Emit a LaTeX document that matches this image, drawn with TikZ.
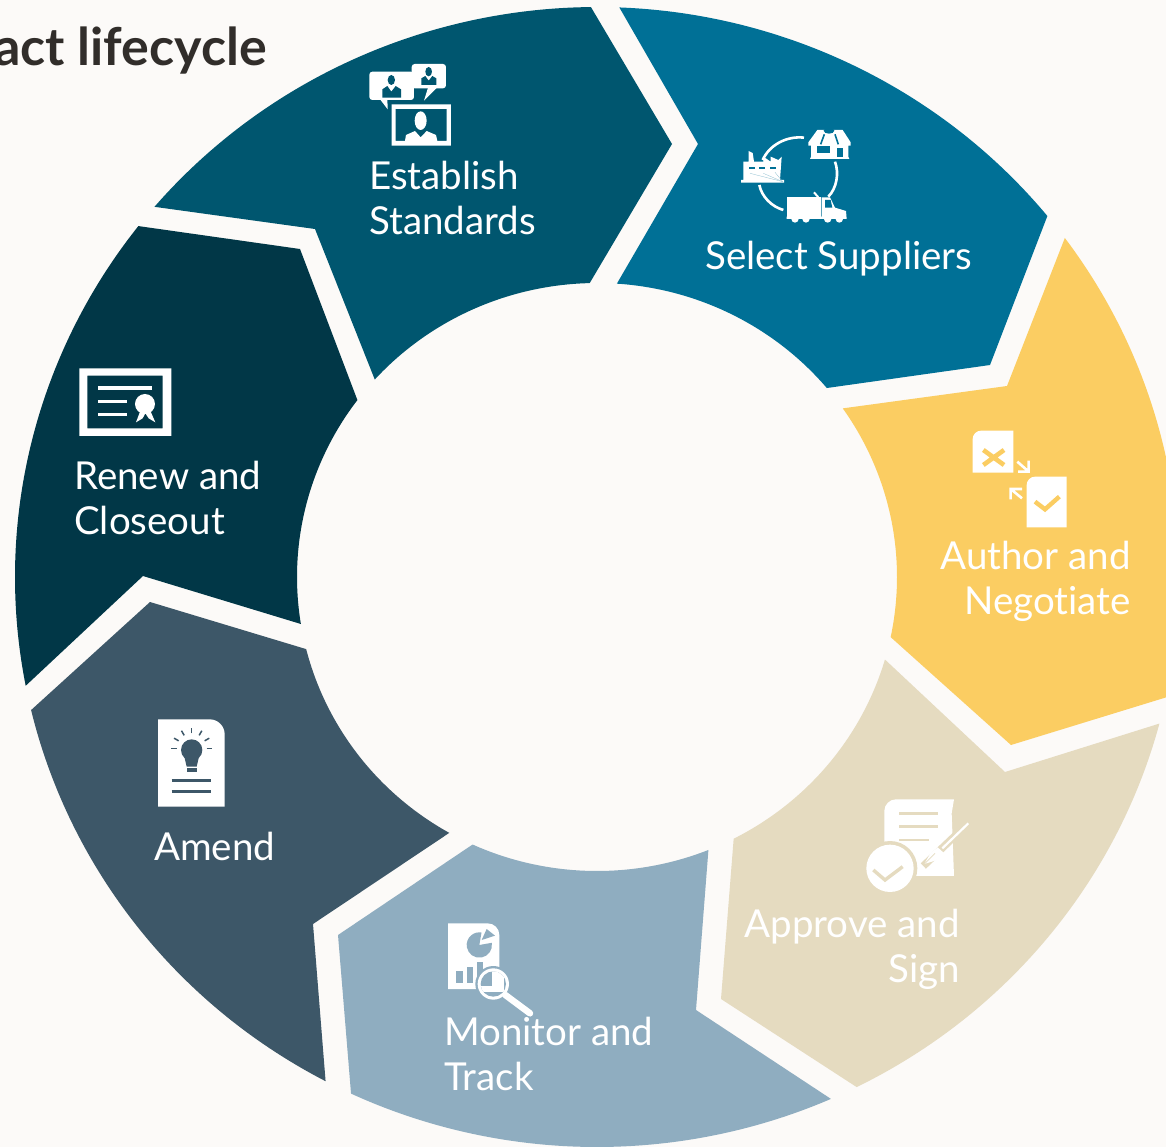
\documentclass[tikz,border=0pt]{standalone}
\usepackage{fontspec}
\setmainfont{Lato}[Ligatures=NoCommon]
\usetikzlibrary{calc}

\definecolor{pagebg}{HTML}{FCFAF8}
\definecolor{estcol}{HTML}{00566F}
\definecolor{selcol}{HTML}{007096}
\definecolor{autcol}{HTML}{FBCD62}
\definecolor{appcol}{HTML}{E5DBC0}
\definecolor{moncol}{HTML}{8FADC0}
\definecolor{amecol}{HTML}{3D5768}
\definecolor{rencol}{HTML}{013747}
\definecolor{titlecol}{HTML}{312D2A}

\tikzset{
  outerarc/.style={x radius=582,y radius=570},
  innerarc/.style={x radius=300,y radius=294},
  seglabel/.style={text=white,inner sep=0pt,anchor=base west,font=\fontsize{38.5}{45}\selectfont},
  iconat/.style 2 args={shift={(#1,#2)},x=0.3333pt,y=-0.3333pt},
  ico/.style={fill=white}
}

\begin{document}
\begin{tikzpicture}[x=1pt,y=-1pt]
	\clip (0,0) rectangle (1166,1147);
	\fill[pagebg] (0,0) rectangle (1166,1147);
	\coordinate (c) at (597,577);

	\fill[estcol] ($(c)+(-139.5:582 and 570)$) arc[outerarc,start angle=-139.5,end angle=-90.6] -- (672,144) -- ($(c)+(-91.4:300 and 294)$) arc[innerarc,start angle=-91.4,end angle=-137.8] -- (315,229) -- cycle;
	\fill[selcol] ($(c)+(-87.8:582 and 570)$) arc[outerarc,start angle=-87.8,end angle=-39.3] -- (990,365) -- ($(c)+(-40:300 and 294)$) arc[innerarc,start angle=-40,end angle=-86.2] -- (698,144) -- cycle;
	\fill[autcol] ($(c)+(-36.5:582 and 570)$) arc[outerarc,start angle=-36.5,end angle=12.2] -- (1011,745) -- ($(c)+(11.8:300 and 294)$) arc[innerarc,start angle=11.8,end angle=-35] -- (1007,386) -- cycle;
	\fill[appcol] ($(c)+(14.9:582 and 570)$) arc[outerarc,start angle=14.9,end angle=63.5] -- (721,999) -- ($(c)+(62.9:300 and 294)$) arc[innerarc,start angle=62.9,end angle=16.3] -- (1005,772) -- cycle;
	\fill[moncol] ($(c)+(66.3:582 and 570)$) arc[outerarc,start angle=66.3,end angle=115] -- (338,935) -- ($(c)+(114.5:300 and 294)$) arc[innerarc,start angle=114.5,end angle=68.2] -- (696,1010) -- cycle;
	\fill[amecol] ($(c)+(117.8:582 and 570)$) arc[outerarc,start angle=117.8,end angle=166.5] -- (150,602) -- ($(c)+(165.8:300 and 294)$) arc[innerarc,start angle=165.8,end angle=119.5] -- (313,924) -- cycle;
	\fill[rencol] ($(c)+(169:582 and 570)$) arc[outerarc,start angle=169,end angle=218] -- (300,249) -- ($(c)+(217:300 and 294)$) arc[innerarc,start angle=217,end angle=170.8] -- (143,576) -- cycle;

	\node[text=titlecol,inner sep=0pt,anchor=base east,font=\fontsize{52}{52}\selectfont\bfseries] (title) at (267,66) {act lifecycle};
	\node[seglabel,align=left] (establish) at (369,235) {Establish\\Standards};
	\node[seglabel] (select) at (705,270) {Select Suppliers};
	\node[seglabel,anchor=base east,align=right] (author) at (1131,614) {Author and\\Negotiate};
	\node[seglabel,anchor=base east,align=right] (approve) at (960,982) {Approve and\\Sign};
	\node[seglabel,align=left] (monitor) at (444,1090) {Monitor and\\Track};
	\node[seglabel] (amend) at (154,860) {Amend};
	\node[seglabel,align=left] (renew) at (74,534) {Renew and\\Closeout};

	\begin{scope}[iconat={350}{50}]
		\fill[ico,rounded corners=3pt] (58,65) rectangle (192,150);
		\fill[ico] (88,145) -- (113,178) -- (112,145) -- cycle;
		\fill[ico,rounded corners=3pt] (185,42) rectangle (288,115);
		\fill[ico] (235,110) -- (222,152) -- (264,110) -- cycle;
		\fill[estcol] (124,90) ellipse[x radius=11,y radius=15];
		\fill[estcol] (97,143) -- (97,118) -- (112,108) -- (124,125) -- (137,108) -- (153,118) -- (153,143) -- cycle;
		\fill[estcol] (236,65) ellipse[x radius=10,y radius=14];
		\fill[estcol] (214,105) -- (214,85) -- (226,78) -- (236,92) -- (247,78) -- (259,85) -- (259,105) -- cycle;
		\fill[ico,even odd rule] (125,163) rectangle (303,287) (137,177) rectangle (290,273);
		\fill[ico] (212,212) ellipse[x radius=18,y radius=28];
		\fill[ico] (165,273) -- (168,255) -- (195,243) -- (212,262) -- (230,243) -- (258,255) -- (262,273) -- cycle;
	\end{scope}

	\begin{scope}[iconat={730}{115}]
		\draw[white,line width=2.6pt] (222,68) .. controls (170,62) and (118,90) .. (98,135);
		\draw[white,line width=2.6pt] (88,210) .. controls (95,245) and (125,275) .. (160,285);
		\draw[white,line width=2.6pt] (315,140) .. controls (328,175) and (320,220) .. (295,245);
		\fill[ico] (33,203) -- (33,195) -- (40,195) -- (40,140) -- (56,140) -- (56,108) -- (68,114) -- (72,140) -- (100,140) -- (100,125) -- (122,140) -- (122,125) -- (145,135) -- (155,125) -- (150,195) -- (162,195) -- (162,203) -- cycle;
		\foreach \wx in {58,88,120}
			\fill[selcol] (\wx,155) rectangle ++(17,7);
		\foreach \fx/\fy in {60/175,100/175,135/172}
			\draw[selcol!45!white,line width=0.3pt] (158,200) -- (\fx,\fy);
		\fill[ico] (235,82) -- (262,45) -- (338,45) -- (362,82) -- (362,92) -- (355,92) -- (355,125) -- (358,132) -- (240,132) -- (243,125) -- (243,92) -- (235,92) -- cycle;
		\fill[selcol] (297,47) ellipse[x radius=16,y radius=9];
		\fill[selcol] (262,92) rectangle (300,115);
		\fill[selcol] (320,98) rectangle (338,125);
		\draw[selcol,line width=1.6pt] (283,58) -- (272,88) (315,58) -- (325,88);
		\fill[ico] (170,245) rectangle (272,305);
		\draw[white,line width=2pt] (252,232) -- (265,247);
		\fill[ico] (275,247) -- (300,247) -- (315,278) -- (348,288) -- (350,312) -- (170,312) -- (170,305) -- (275,305) -- cycle;
		\fill[selcol] (285,255) -- (302,255) -- (307,278) -- (285,278) -- cycle;
		\foreach \wx in {195,228,293,328}
			\fill[ico] (\wx,312) circle[radius=11];
	\end{scope}

	\begin{scope}[iconat={960}{420}]
		\fill[ico] (38,158) -- (38,57) arc[start angle=180,end angle=270,radius=25] -- (160,32) -- (160,158) -- cycle;
		\draw[autcol,line width=4.6pt] (70,90) -- (132,135) (132,90) -- (70,135);
		\fill[ico] (200,322) -- (200,195) arc[start angle=180,end angle=270,radius=25] -- (320,170) -- (320,322) -- cycle;
		\draw[autcol,line width=4.4pt] (225,245) -- (255,268) -- (298,230);
		\draw[white,line width=2.6pt] (172,125) -- (206,155) (206,122) -- (206,155) -- (174,155);
		\draw[white,line width=2.6pt] (186,235) -- (152,207) (186,207) -- (152,207) -- (152,238);
	\end{scope}

	\begin{scope}[iconat={855}{790}]
		\fill[ico] (88,258) -- (88,63) arc[start angle=180,end angle=270,radius=35] -- (297,28) -- (290,70) -- (297,258) -- cycle;
		\draw[appcol,line width=2.8pt] (133,70) -- (250,70) (133,110) -- (250,110) (133,150) -- (222,150);
		\fill[appcol] (105,235) circle[radius=82];
		\fill[ico] (105,235) circle[radius=71];
		\draw[appcol,line width=3.4pt] (55,240) -- (90,270) -- (143,230);
		\draw[appcol,line width=7.5pt] (345,95) -- (205,228);
		\draw[white,line width=2.2pt] (340,100) -- (262,175);
		\fill[ico] (248,172) -- (270,192) -- (240,212) -- (208,222) -- (226,190) -- cycle;
		\draw[appcol,line width=0.7pt] (208,222) -- (240,190);
	\end{scope}

	\begin{scope}[iconat={440}{915}]
		\fill[ico] (24,222) -- (24,25) -- (143,25) arc[start angle=270,end angle=360,radius=35] -- (178,222) -- cycle;
		\fill[moncol] (118,90) -- ++(-10:38) arc[start angle=-10,end angle=280,radius=38] -- cycle;
		\fill[moncol] (125,75) -- (140,42) -- (165,62) -- cycle;
		\fill[moncol] (48,168) rectangle (68,205);
		\fill[moncol] (80,155) rectangle (100,205);
		\fill[moncol] (110,140) rectangle (130,205);
		\fill[moncol] (160,207) circle[radius=54];
		\fill[ico] (160,207) circle[radius=47];
		\begin{scope}
			\clip (160,207) circle[radius=38];
			\fill[moncol] (110,160) rectangle (210,260);
			\fill[ico] (157,160) rectangle (192,232);
			\fill[ico] (110,212) rectangle (192,232);
		\end{scope}
		\draw[white,line width=6.5pt,line cap=round] (196,240) -- (270,295);
	\end{scope}

	\begin{scope}[iconat={150}{710}]
		\fill[ico] (24,290) -- (24,28) -- (179,28) arc[start angle=270,end angle=360,radius=45] -- (224,290) -- cycle;
		\fill[amecol] (125,120) circle[radius=32];
		\fill[amecol] (103,140) -- (110,170) -- (140,170) -- (147,140) -- cycle;
		\fill[amecol] (110,173) rectangle (140,186);
		\foreach \ang in {-180,-150,-120,-90,-60,-30,0}
			\draw[amecol,line width=1.5pt] (125,115) ++(\ang:45) -- ++(\ang:16);
		\draw[amecol,line width=3.3pt] (65,212) -- (183,212) (65,245) -- (183,245);
	\end{scope}

	\begin{scope}[iconat={70}{360}]
		\fill[ico,even odd rule] (28,25) rectangle (304,228) (52,47) rectangle (278,205);
		\draw[white,line width=3.2pt] (85,84) -- (245,84) (85,124) -- (170,124) (85,164) -- (170,164);
		\fill[ico] (225,132) circle[radius=30];
		\fill[ico] (212,150) -- (198,187) -- (218,175) -- (226,160) -- (236,175) -- (256,187) -- (240,150) -- cycle;
	\end{scope}
\end{tikzpicture}
\end{document}
